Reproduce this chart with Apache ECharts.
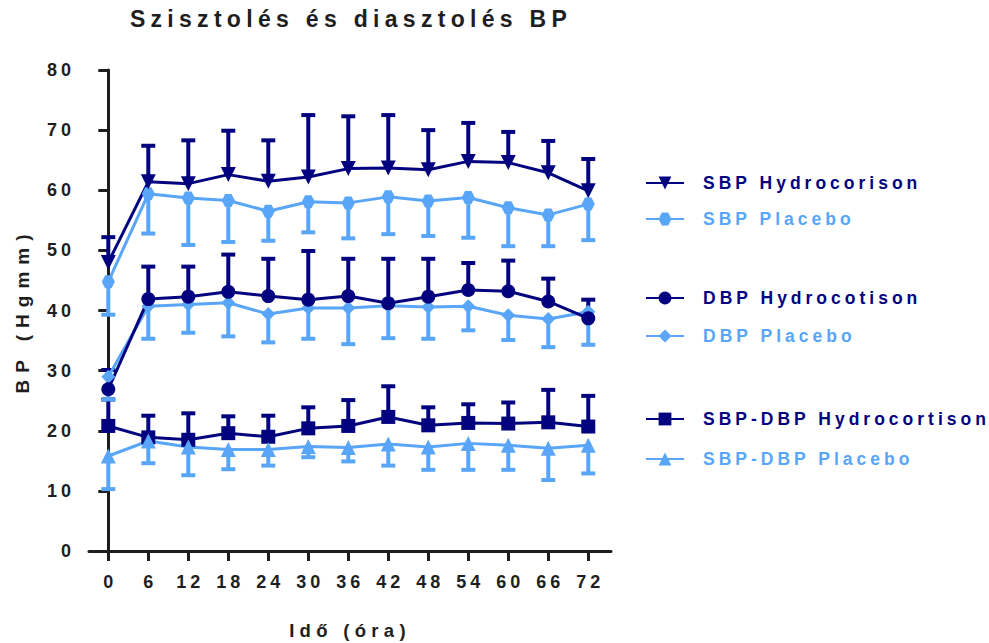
<!DOCTYPE html>
<html>
<head>
<meta charset="utf-8">
<script src="https://cdn.jsdelivr.net/npm/echarts@6/dist/echarts.min.js"></script>
<style>
  html, body { margin: 0; padding: 0; background: #fff; }
  #chart { width: 989px; height: 643px; }
  /* wide tracking on all chart text, tuned per font size */
  #chart text { letter-spacing: 5px; }
  #chart text[style*="23px"] { letter-spacing: 5.3px; }
  #chart text[style*="18px"] { letter-spacing: 4px; }
  #chart text[style*="17.5px"] { letter-spacing: 4px; }
  #chart text[style*="18.5px"] { letter-spacing: 5.3px; }
  #chart text[style*="19px"] { letter-spacing: 7px; }
</style>
</head>
<body>
<div id="chart"></div>
<script>
// Time points (hours)
const hours = [0, 6, 12, 18, 24, 30, 36, 42, 48, 54, 60, 66, 72];

// Systolic BP
const sbpHydroMean = [48.0, 61.4, 61.1, 62.6, 61.5, 62.2, 63.6, 63.7, 63.4, 64.8, 64.6, 62.9, 59.9];
const sbpHydroSD   = [4.2, 6.0, 7.2, 7.3, 6.8, 10.3, 8.7, 8.8, 6.6, 6.4, 5.1, 5.3, 5.3];
const sbpPlacMean  = [44.8, 59.4, 58.7, 58.3, 56.5, 58.1, 57.9, 58.9, 58.2, 58.8, 57.1, 55.9, 57.7];
const sbpPlacSD    = [5.5, 6.6, 7.8, 6.9, 4.9, 5.1, 5.9, 6.2, 5.8, 6.7, 6.4, 5.2, 6.0];

// Diastolic BP
const dbpHydroMean = [26.9, 41.9, 42.3, 43.1, 42.4, 41.8, 42.4, 41.2, 42.3, 43.4, 43.2, 41.5, 38.7];
const dbpHydroSD   = [3.2, 5.4, 5.0, 6.2, 6.2, 8.1, 6.2, 7.4, 6.3, 4.5, 5.1, 3.8, 3.1];
const dbpPlacMean  = [29.0, 40.7, 41.0, 41.3, 39.4, 40.4, 40.4, 40.8, 40.6, 40.7, 39.2, 38.6, 39.8];
const dbpPlacSD    = [3.8, 5.4, 4.7, 5.6, 4.7, 5.1, 6.0, 5.4, 5.3, 4.0, 4.1, 4.7, 5.5];

// Pulse pressure (SBP-DBP)
const ppHydroMean = [20.8, 18.9, 18.5, 19.6, 19.0, 20.4, 20.8, 22.3, 20.9, 21.3, 21.2, 21.4, 20.7];
const ppHydroSD   = [4.4, 3.6, 4.4, 2.8, 3.5, 3.5, 4.3, 5.1, 3.0, 3.1, 3.5, 5.4, 5.1];
const ppPlacMean  = [15.8, 18.3, 17.3, 16.9, 16.9, 17.4, 17.2, 17.8, 17.3, 17.9, 17.6, 17.1, 17.6];
const ppPlacSD    = [5.5, 3.7, 4.7, 3.3, 2.7, 1.8, 2.3, 3.6, 3.8, 4.4, 4.1, 5.3, 4.7];

// Axis ticks and texts
const yTicks = [0, 10, 20, 30, 40, 50, 60, 70, 80];
const titleText = 'Szisztolés és diasztolés BP';
const xName = 'Idő (óra)';
const yName = 'BP (Hgmm)';

const NAVY = '#03037f';
const LIGHT = '#59a5f8';
const INK = '#1e1e1e';
const FONT = "'Liberation Sans', Arial, sans-serif";
const HEXAGON = 'path://M-5,-8.66 L5,-8.66 L10,0 L5,8.66 L-5,8.66 L-10,0 Z';

// Drawing order, back to front. dir: +1 = bar above the mean, -1 = below.
const groups = [
  { name: 'SBP-DBP Hydrocortison', mean: ppHydroMean, sd: ppHydroSD, dir: 1, color: NAVY, symbol: 'rect', size: 14, rotate: 0, legendTop: 410 },
  { name: 'SBP-DBP Placebo', mean: ppPlacMean, sd: ppPlacSD, dir: -1, color: LIGHT, symbol: 'triangle', size: 15, rotate: 0, legendTop: 450 },
  { name: 'DBP Placebo', mean: dbpPlacMean, sd: dbpPlacSD, dir: -1, color: LIGHT, symbol: 'diamond', size: 14, rotate: 0, legendTop: 327 },
  { name: 'DBP Hydrocotison', mean: dbpHydroMean, sd: dbpHydroSD, dir: 1, color: NAVY, symbol: 'circle', size: 14, rotate: 0, legendTop: 289 },
  { name: 'SBP Placebo', mean: sbpPlacMean, sd: sbpPlacSD, dir: -1, color: LIGHT, symbol: HEXAGON, size: 13, rotate: 0, legendTop: 210 },
  { name: 'SBP Hydrocorison', mean: sbpHydroMean, sd: sbpHydroSD, dir: 1, color: NAVY, symbol: 'triangle', size: 15, rotate: 180, legendTop: 174 }
];

function errorBarRenderer(color) {
  return function (params, api) {
    const x = api.value(0);
    const p0 = api.coord([x, api.value(1)]);
    const p1 = api.coord([x, api.value(2)]);
    const half = 7;
    return {
      type: 'group',
      children: [
        { type: 'line', shape: { x1: p0[0], y1: p0[1], x2: p1[0], y2: p1[1] }, style: { stroke: color, lineWidth: 4 } },
        { type: 'line', shape: { x1: p1[0] - half, y1: p1[1], x2: p1[0] + half, y2: p1[1] }, style: { stroke: color, lineWidth: 4 } }
      ]
    };
  };
}

const series = [];
groups.forEach(function (g) {
  series.push({
    name: g.name + ' SD',
    type: 'custom',
    renderItem: errorBarRenderer(g.color),
    data: hours.map(function (t, i) { return [t, g.mean[i], g.mean[i] + g.dir * g.sd[i]]; }),
    encode: { x: 0, y: [1, 2] },
    silent: true,
    clip: false
  });
  series.push({
    name: g.name,
    type: 'line',
    data: hours.map(function (t, i) { return [t, g.mean[i]]; }),
    symbol: g.symbol,
    symbolSize: g.size,
    symbolRotate: g.rotate,
    showSymbol: true,
    lineStyle: { width: 3, color: g.color },
    itemStyle: { color: g.color, opacity: 1 },
    emphasis: { disabled: true },
    silent: true
  });
});

const legends = groups.map(function (g) {
  return {
    data: [g.name],
    orient: 'vertical',
    left: 645,
    top: g.legendTop,
    padding: 0,
    itemWidth: 38,
    itemHeight: 16,
    selectedMode: false,
    textStyle: { color: g.color, fontSize: 17.5, fontWeight: 'bold', fontFamily: FONT, padding: [0, 0, 0, 14] }
  };
});

const chart = echarts.init(document.getElementById('chart'), null, { renderer: 'svg' });
chart.setOption({
  animation: false,
  backgroundColor: '#ffffff',
  textStyle: { fontFamily: FONT },
  title: {
    text: titleText,
    left: 346,
    top: 2,
    textAlign: 'center',
    textStyle: { fontSize: 23, fontWeight: 'bold', color: INK, fontFamily: FONT }
  },
  legend: legends,
  grid: { left: 89, right: 378, top: 70, bottom: 92, containLabel: false, outerBoundsMode: 'none' },
  xAxis: {
    type: 'value',
    min: -2.895,
    max: 75.41,
    name: xName,
    nameLocation: 'middle',
    nameGap: 70,
    nameMoveOverlap: false,
    nameTextStyle: { fontSize: 18.5, fontWeight: 'bold', color: INK, fontFamily: FONT },
    splitLine: { show: false },
    axisLine: { show: true, onZero: false, lineStyle: { color: INK, width: 3 } },
    axisTick: { show: true, inside: false, length: 10, customValues: hours, lineStyle: { color: INK, width: 3 } },
    axisLabel: { customValues: hours, margin: 22, fontSize: 18, fontWeight: 'bold', color: INK, fontFamily: FONT, padding: [0, 0, 0, 4] }
  },
  yAxis: {
    type: 'value',
    min: 0,
    max: 80,
    interval: 10,
    name: yName,
    nameLocation: 'middle',
    nameGap: 57,
    nameRotate: 90,
    nameMoveOverlap: false,
    nameTextStyle: { fontSize: 19, fontWeight: 'bold', color: INK, fontFamily: FONT },
    splitLine: { show: false },
    axisLine: { show: true, lineStyle: { color: INK, width: 3 } },
    axisTick: { show: true, inside: false, length: 10, lineStyle: { color: INK, width: 3 } },
    axisLabel: { customValues: yTicks, margin: 14, fontSize: 18, fontWeight: 'bold', color: INK, fontFamily: FONT }
  },
  series: series
});
</script>
</body>
</html>
